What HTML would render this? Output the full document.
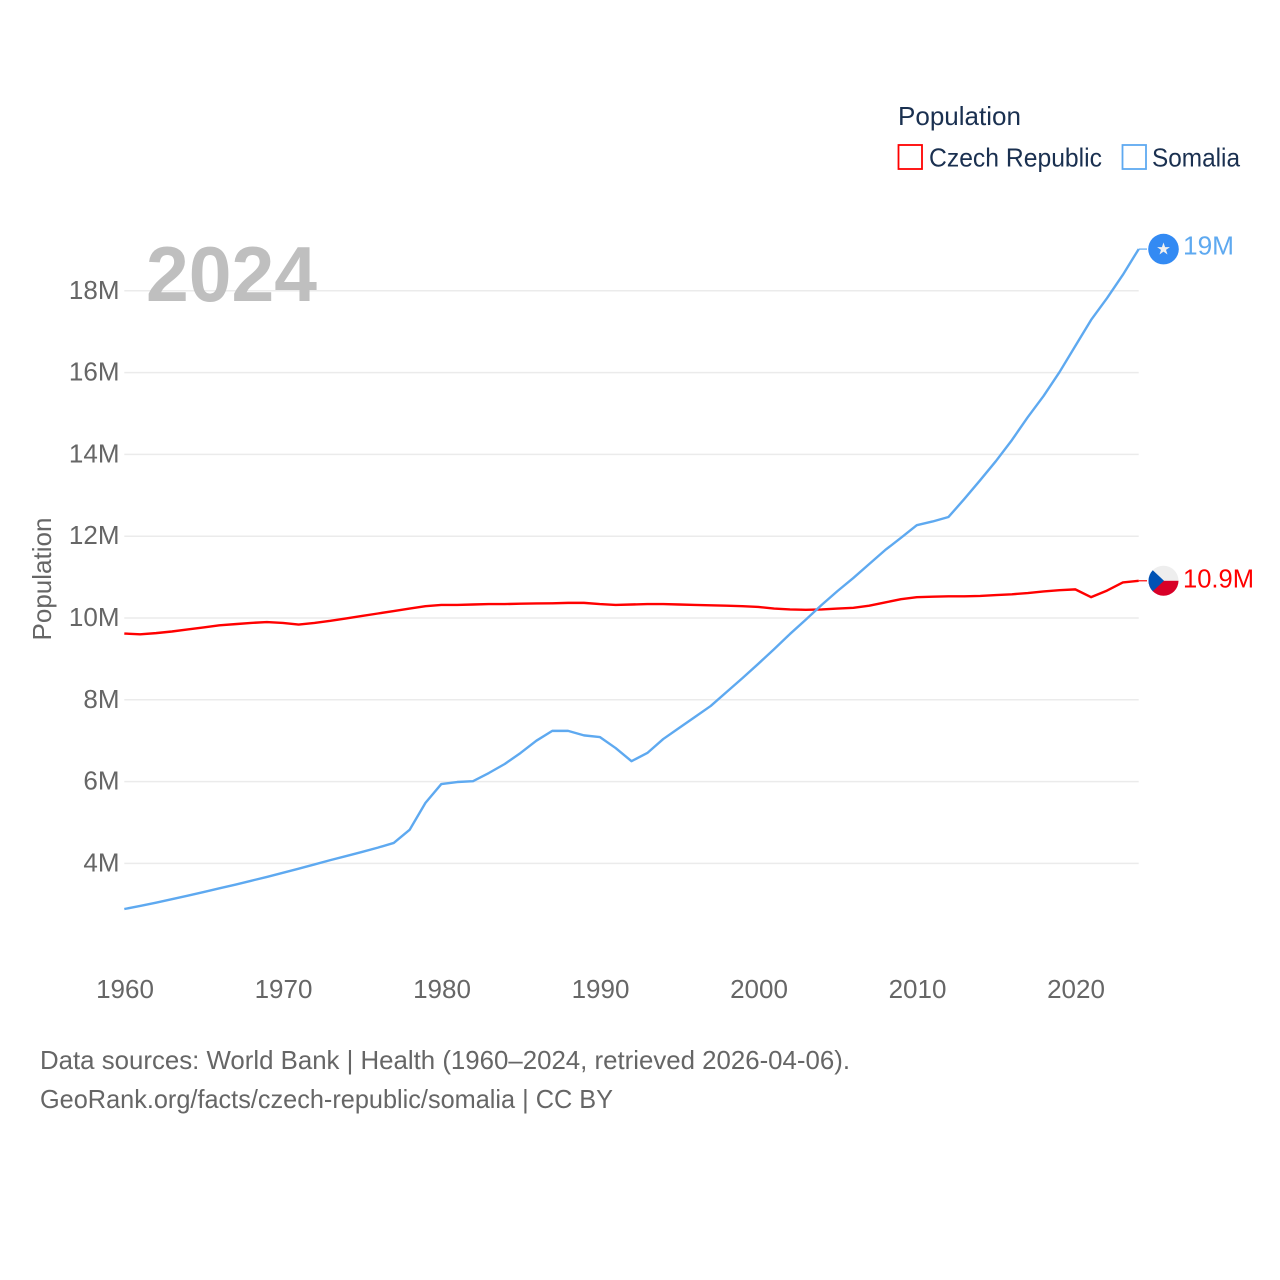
<!DOCTYPE html>
<html lang="en">
<head>
<meta charset="utf-8">
<title>Population: Czech Republic vs Somalia</title>
<style>
html,body{margin:0;padding:0;background:#fff}
svg{display:block;font-family:"Liberation Sans",sans-serif}
</style>
</head>
<body>
<svg id="chart" xmlns="http://www.w3.org/2000/svg" width="1280" height="1280" viewBox="0 0 1280 1280">
  <rect width="1280" height="1280" fill="#fff"/>
  <defs>
    <clipPath id="flag-clip-cz"><circle cx="1163.5" cy="0" r="15"/></clipPath>
  </defs>
  <g id="grid"></g>
  <g id="yticks"></g>
  <g id="xticks"></g>
  <text transform="translate(51,579) rotate(-90)" text-anchor="middle" font-size="26" fill="#666" textLength="123" lengthAdjust="spacingAndGlyphs">Population</text>
  <text x="146" y="301" font-size="78" font-weight="700" fill="#bfbfbf" textLength="171" lengthAdjust="spacingAndGlyphs">2024</text>
  <g id="series"></g>
  <g id="ends"></g>
  <g>
    <text x="898" y="125" font-size="26" fill="#1a3050" textLength="123" lengthAdjust="spacingAndGlyphs">Population</text>
    <rect x="898.5" y="145" width="23.5" height="24" fill="#fff" stroke="#ff0000" stroke-width="1.8"/>
    <text x="929" y="166.5" font-size="26" fill="#1a3050" textLength="173" lengthAdjust="spacingAndGlyphs">Czech Republic</text>
    <rect x="1122.5" y="145" width="23.5" height="24" fill="#fff" stroke="#5ea9f0" stroke-width="1.8"/>
    <text x="1152" y="166.5" font-size="26" fill="#1a3050" textLength="88" lengthAdjust="spacingAndGlyphs">Somalia</text>
  </g>
  <text x="40" y="1069" font-size="26" fill="#666" textLength="810" lengthAdjust="spacingAndGlyphs">Data sources: World Bank | Health (1960–2024, retrieved 2026-04-06).</text>
  <text x="40" y="1108" font-size="26" fill="#666" textLength="573" lengthAdjust="spacingAndGlyphs">GeoRank.org/facts/czech-republic/somalia | CC BY</text>
</svg>
<script>
const startYear = 1960;
const xTickYears = [1960, 1970, 1980, 1990, 2000, 2010, 2020];
const yTickValues = [4, 6, 8, 10, 12, 14, 16, 18];
const yTickLabels = ['4M', '6M', '8M', '10M', '12M', '14M', '16M', '18M'];
const czechValues = [9.62,9.60,9.63,9.67,9.72,9.77,9.82,9.85,9.88,9.90,9.88,9.84,9.88,9.93,9.99,10.05,10.11,10.17,10.23,10.29,10.32,10.32,10.33,10.34,10.34,10.35,10.355,10.36,10.37,10.37,10.34,10.32,10.33,10.34,10.34,10.33,10.32,10.31,10.30,10.29,10.27,10.23,10.21,10.20,10.21,10.23,10.25,10.30,10.38,10.46,10.51,10.52,10.53,10.53,10.54,10.56,10.58,10.61,10.65,10.68,10.70,10.51,10.67,10.87,10.91];
const somaliaValues = [2.885,2.96,3.04,3.125,3.21,3.30,3.39,3.48,3.575,3.67,3.77,3.87,3.975,4.08,4.18,4.28,4.385,4.50,4.82,5.48,5.94,5.99,6.01,6.21,6.43,6.70,7.00,7.24,7.24,7.13,7.09,6.82,6.50,6.70,7.04,7.31,7.58,7.85,8.19,8.53,8.88,9.24,9.61,9.96,10.32,10.66,10.98,11.32,11.66,11.96,12.27,12.36,12.47,12.91,13.37,13.84,14.35,14.91,15.43,16.01,16.65,17.29,17.82,18.39,19.02];
const czechEndLabel = '10.9M';
const somaliaEndLabel = '19M';

const NS = 'http://www.w3.org/2000/svg';
function xScale(year) { return 124.3 + (year - startYear) * 15.85; }
function yScale(v) { return 618 - (v - 10) * 40.9; }
function make(tag, attrs, parent, text) {
  const el = document.createElementNS(NS, tag);
  for (const k in attrs) el.setAttribute(k, attrs[k]);
  if (text !== undefined) el.textContent = text;
  parent.appendChild(el);
  return el;
}
const gridG = document.getElementById('grid');
const yG = document.getElementById('yticks');
const xG = document.getElementById('xticks');
const seriesG = document.getElementById('series');
const endsG = document.getElementById('ends');
const plotRight = xScale(startYear + czechValues.length - 1);

yTickValues.forEach(function (v, i) {
  const line = make('line', {x1: 124.3, x2: plotRight, y1: yScale(v), y2: yScale(v), stroke: '#ebebeb', 'stroke-width': 1.5}, gridG);
  
  
  const label = make('text', {x: 119.5, y: yScale(v) + 8, 'text-anchor': 'end', 'font-size': 26, fill: '#666'}, yG, yTickLabels[i]);
  
  
});
xTickYears.forEach(function (yr) {
  const label = make('text', {x: xScale(yr) + 0.7, y: 998, 'text-anchor': 'middle', 'font-size': 26, fill: '#666'}, xG, String(yr));
  
  
});
function pathFor(values) {
  return values.map(function (v, i) {
    return (i ? 'L' : 'M') + xScale(startYear + i).toFixed(2) + ' ' + yScale(v).toFixed(2);
  }).join(' ');
}
const czechLine = make('path', {d: pathFor(czechValues), fill: 'none', stroke: '#ff0000', 'stroke-width': 2.4, 'stroke-linejoin': 'round'}, seriesG);


const somaliaLine = make('path', {d: pathFor(somaliaValues), fill: 'none', stroke: '#5ea9f0', 'stroke-width': 2.4, 'stroke-linejoin': 'round'}, seriesG);



const czechEndY = yScale(czechValues[czechValues.length - 1]);
const somaliaEndY = yScale(somaliaValues[somaliaValues.length - 1]);

const czechConnector = make('line', {x1: plotRight, x2: 1147, y1: czechEndY, y2: czechEndY, stroke: '#ff0000', 'stroke-width': 1.2}, endsG);


const somaliaConnector = make('line', {x1: plotRight, x2: 1147, y1: somaliaEndY, y2: somaliaEndY, stroke: '#5ea9f0', 'stroke-width': 1.2}, endsG);



const czFlag = make('g', {transform: 'translate(0,' + czechEndY + ')', 'clip-path': 'url(#flag-clip-cz)'}, endsG);


make('rect', {x: 1148, y: -16, width: 32, height: 16, fill: '#eeeeee'}, czFlag);
make('rect', {x: 1148, y: 0, width: 32, height: 16, fill: '#d80027'}, czFlag);
make('path', {d: 'M1148 -15 L1164 0 L1148 15 Z', fill: '#0052b4'}, czFlag);

const soFlag = make('g', {transform: 'translate(1163.5,' + somaliaEndY + ')'}, endsG);


make('circle', {cx: 0, cy: 0, r: 15.3, fill: '#338af3'}, soFlag);
make('path', {d: 'M0 -6.6 L1.6 -2 L6.4 -2 L2.5 0.8 L4 5.4 L0 2.6 L-4 5.4 L-2.5 0.8 L-6.4 -2 L-1.6 -2 Z', fill: '#f0f0f0'}, soFlag);

const czechLabel = make('text', {x: 1183, y: czechEndY + 6.5, 'font-size': 26, fill: '#ff0000', textLength: 71, lengthAdjust: 'spacingAndGlyphs'}, endsG, czechEndLabel);


const somaliaLabel = make('text', {x: 1183, y: somaliaEndY + 5.5, 'font-size': 26, fill: '#5ea9f0', textLength: 51, lengthAdjust: 'spacingAndGlyphs'}, endsG, somaliaEndLabel);


</script>
</body>
</html>
